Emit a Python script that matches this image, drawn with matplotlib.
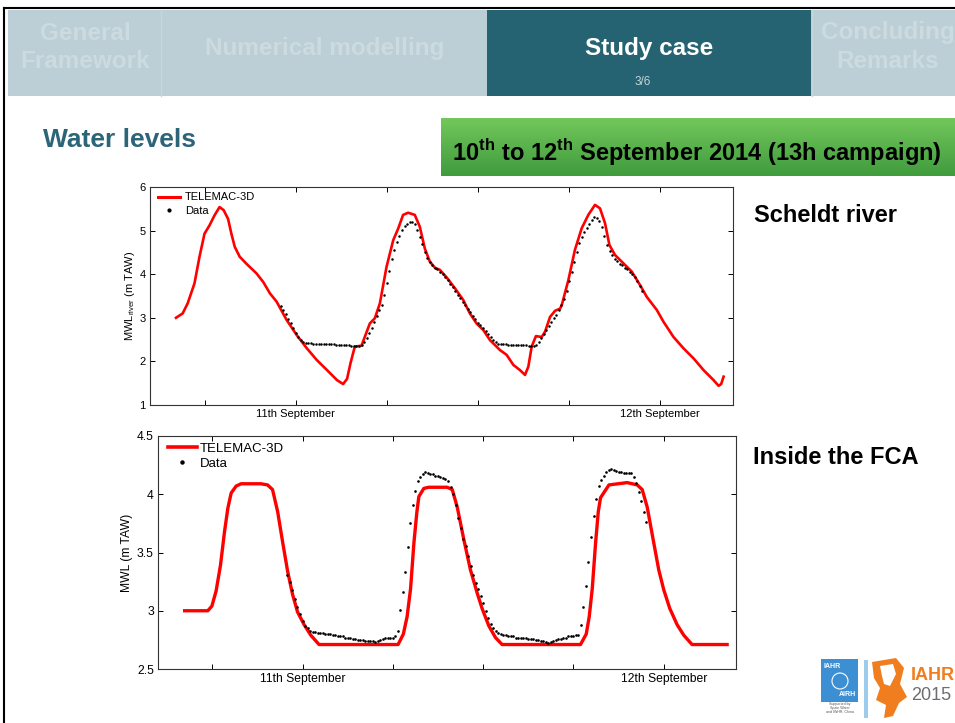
import numpy as np
import matplotlib
matplotlib.use("Agg")
import matplotlib.pyplot as plt
from matplotlib.patches import Rectangle, Polygon, Circle
from matplotlib.lines import Line2D

plt.rcParams['font.family'] = ['Liberation Sans', 'DejaVu Sans']
plt.rcParams['mathtext.fontset'] = 'custom'
plt.rcParams['mathtext.rm'] = 'Liberation Sans'
plt.rcParams['mathtext.bf'] = 'Liberation Sans:bold'

# hours relative to 11 Sept 2014 00:00
tick_hours = [-6, 0, 6, 12, 18, 24]
tick_labels = ['', '11th September', '', '', '', '12th September']

# measurements, 10-minute sampling starting 10 Sept 23:00
data_start = -1.0
data_step = 1 / 6

# Scheldt river: TELEMAC-3D (hour, level)
river_model_t = [-7.89, -7.45, -7.12, -6.67, -6.34, -6.01, -5.68, -5.35, -5.02, -4.75,
                 -4.46, -4.24, -4.02, -3.69, -3.25, -2.59, -2.14, -1.70, -1.26, -0.60,
                 0.07, 0.73, 1.39, 2.06, 2.72, 3.12, 3.38, 3.60, 3.89, 4.33,
                 4.88, 5.21, 5.54, 5.98, 6.42, 6.75, 7.07, 7.40, 7.84, 8.17,
                 8.50, 8.83, 9.16, 9.49, 9.93, 10.48, 11.03, 11.47, 11.91, 12.35,
                 12.79, 13.45, 13.89, 14.33, 14.77, 15.10, 15.32, 15.54, 15.82, 16.20,
                 16.42, 16.75, 17.08, 17.41, 17.52, 17.96, 18.39, 18.83, 19.27, 19.71,
                 20.04, 20.37, 20.66, 21.03, 21.58, 22.13, 22.68, 23.12, 23.78, 24.22,
                 24.88, 25.54, 26.20, 26.86, 27.52, 27.85, 28.02, 28.18]
river_model_v = [3.00, 3.10, 3.33, 3.79, 4.40, 4.93, 5.12, 5.35, 5.54, 5.47,
                 5.27, 4.93, 4.63, 4.40, 4.24, 4.02, 3.82, 3.56, 3.37, 2.95,
                 2.60, 2.30, 2.03, 1.80, 1.57, 1.48, 1.60, 1.95, 2.34, 2.36,
                 2.87, 2.99, 3.33, 4.17, 4.78, 5.05, 5.36, 5.41, 5.36, 5.09,
                 4.59, 4.29, 4.15, 4.10, 3.93, 3.68, 3.41, 3.10, 2.87, 2.72,
                 2.49, 2.26, 2.15, 1.92, 1.80, 1.69, 1.88, 2.34, 2.58, 2.56,
                 2.68, 3.02, 3.16, 3.21, 3.29, 3.87, 4.56, 5.05, 5.36, 5.59,
                 5.51, 5.17, 4.67, 4.44, 4.25, 4.06, 3.75, 3.48, 3.18, 2.91,
                 2.56, 2.30, 2.07, 1.80, 1.57, 1.44, 1.48, 1.65]

# Scheldt river: measured levels (one row per hour)
river_data = [3.28, 3.18, 3.08, 2.97, 2.87, 2.77,
              2.66, 2.57, 2.50, 2.45, 2.42, 2.42,
              2.42, 2.41, 2.41, 2.41, 2.40, 2.40,
              2.40, 2.39, 2.39, 2.39, 2.38, 2.38,
              2.38, 2.37, 2.37, 2.37, 2.36, 2.36,
              2.36, 2.36, 2.37, 2.45, 2.53, 2.64,
              2.76, 2.90, 3.04, 3.17, 3.30, 3.52,
              3.80, 4.08, 4.35, 4.55, 4.73, 4.88,
              5.02, 5.10, 5.16, 5.20, 5.20, 5.14,
              5.02, 4.86, 4.70, 4.52, 4.38, 4.27,
              4.20, 4.15, 4.11, 4.06, 4.01, 3.94,
              3.86, 3.78, 3.70, 3.62, 3.53, 3.45,
              3.37, 3.29, 3.21, 3.13, 3.05, 2.97,
              2.89, 2.83, 2.77, 2.70, 2.63, 2.56,
              2.49, 2.44, 2.40, 2.39, 2.39, 2.39,
              2.38, 2.38, 2.38, 2.38, 2.37, 2.37,
              2.37, 2.37, 2.36, 2.36, 2.36, 2.38,
              2.45, 2.54, 2.63, 2.72, 2.81, 2.90,
              2.99, 3.07, 3.17, 3.30, 3.44, 3.62,
              3.84, 4.05, 4.28, 4.52, 4.72, 4.85,
              4.96, 5.05, 5.15, 5.24, 5.31, 5.30,
              5.22, 5.08, 4.88, 4.68, 4.53, 4.43,
              4.36, 4.30, 4.24, 4.20, 4.15, 4.11,
              4.06, 4.00, 3.93, 3.84, 3.74, 3.62]

# FCA: TELEMAC-3D (hour, level)
fca_model_t = [-7.83, -6.29, -6.02, -5.74, -5.45, -5.18, -4.96, -4.74, -4.41, -4.08,
               -2.76, -2.32, -1.99, -1.65, -1.32, -0.99, -0.66, -0.33, 0.11, 0.55,
               1.10, 6.35, 6.70, 6.95, 7.18, 7.40, 7.60, 7.73, 8.06, 8.38,
               9.61, 9.95, 10.28, 10.72, 11.16, 11.61, 11.93, 12.38, 12.82, 13.26,
               18.47, 18.85, 19.05, 19.25, 19.47, 19.65, 19.80, 20.36, 21.57, 22.24,
               22.57, 22.90, 23.34, 23.67, 24.00, 24.40, 24.89, 25.33, 25.88, 28.21]
fca_model_v = [3.00, 3.00, 3.04, 3.17, 3.39, 3.68, 3.88, 4.01, 4.07, 4.09,
               4.09, 4.08, 4.04, 3.85, 3.59, 3.34, 3.14, 2.99, 2.88, 2.79,
               2.71, 2.71, 2.80, 2.95, 3.19, 3.58, 3.85, 3.98, 4.05, 4.06,
               4.06, 4.04, 3.89, 3.61, 3.35, 3.15, 3.02, 2.87, 2.77, 2.71,
               2.71, 2.80, 2.95, 3.19, 3.58, 3.85, 3.97, 4.08, 4.10, 4.08,
               4.04, 3.89, 3.58, 3.35, 3.18, 3.02, 2.88, 2.79, 2.71, 2.71]

# FCA: measured levels (one row per hour)
fca_data = [3.31, 3.25, 3.18, 3.10, 3.03, 2.97,
            2.91, 2.87, 2.85, 2.83, 2.82, 2.82,
            2.81, 2.81, 2.81, 2.80, 2.80, 2.80,
            2.79, 2.79, 2.78, 2.78, 2.78, 2.77,
            2.77, 2.77, 2.76, 2.76, 2.75, 2.75,
            2.75, 2.74, 2.74, 2.74, 2.74, 2.73,
            2.74, 2.75, 2.76, 2.77, 2.77, 2.77,
            2.77, 2.78, 2.83, 3.01, 3.16, 3.33,
            3.55, 3.75, 3.91, 4.03, 4.11, 4.15,
            4.17, 4.19, 4.18, 4.17, 4.17, 4.16,
            4.16, 4.15, 4.14, 4.13, 4.11, 4.06,
            4.00, 3.91, 3.80, 3.71, 3.62, 3.56,
            3.47, 3.38, 3.31, 3.24, 3.19, 3.13,
            3.07, 3.00, 2.94, 2.89, 2.85, 2.83,
            2.81, 2.80, 2.79, 2.79, 2.78, 2.78,
            2.78, 2.77, 2.77, 2.77, 2.77, 2.77,
            2.76, 2.76, 2.76, 2.75, 2.75, 2.74,
            2.74, 2.73, 2.72, 2.73, 2.74, 2.75,
            2.76, 2.76, 2.77, 2.77, 2.78, 2.78,
            2.78, 2.79, 2.79, 2.88, 3.03, 3.21,
            3.42, 3.63, 3.81, 3.96, 4.07, 4.12,
            4.16, 4.19, 4.21, 4.22, 4.21, 4.20,
            4.19, 4.19, 4.18, 4.18, 4.18, 4.18,
            4.15, 4.10, 4.02, 3.94, 3.85, 3.76]

data_t = data_start + data_step * np.arange(len(river_data))

W, H = 955, 723
fig = plt.figure(figsize=(W / 100, H / 100), dpi=100)

# ---- slide background (pixel coords, y down)
bg = fig.add_axes([0, 0, 1, 1])
bg.set_xlim(0, W)
bg.set_ylim(H, 0)
bg.axis('off')

bg.add_patch(Rectangle((8, 10), W - 8, 86, color='#bccfd6', lw=0))
bg.add_patch(Rectangle((487, 10), 324, 86, color='#256272', lw=0))
for xd in [161, 812]:
    bg.plot([xd, xd], [10, 96], color='#c6d7dc', lw=1)
bg.plot([4, W], [8, 8], color='black', lw=1.5)
bg.plot([4, 4], [8, H], color='black', lw=1.5)

tab_kw = dict(fontsize=17.5, fontweight='bold', ha='center', va='center')
faint = '#cbdbe0'
bg.text(85, 33, 'General', color=faint, **tab_kw)
bg.text(85, 62, 'Framework', color=faint, **tab_kw)
bg.text(325, 48, 'Numerical modelling', color=faint, **tab_kw)
bg.text(649, 48, 'Study case', color='white', **tab_kw)
bg.text(643, 82, '3/6', color='#c3d5da', fontsize=8.5, ha='center', va='center')
bg.text(888, 33, 'Concluding', color=faint, **tab_kw)
bg.text(888, 62, 'Remarks', color=faint, **tab_kw)

bg.text(43, 140, 'Water levels', color='#2c6478', fontsize=19,
        fontweight='bold', va='center')

grad = np.linspace(0, 1, 64).reshape(-1, 1)
top_c = np.array([0.45, 0.78, 0.36])
bot_c = np.array([0.25, 0.61, 0.24])
img = top_c + (bot_c - top_c) * grad[:, :, None]
bg.imshow(img, extent=[441, W, 176, 118], aspect='auto', zorder=1)
bg.text(452, 152, r'10$^{\mathbf{th}}$ to 12$^{\mathbf{th}}$ September 2014 (13h campaign)',
        fontsize=17, fontweight='bold', va='center', zorder=2)

bg.text(754, 215, 'Scheldt river', fontsize=17, fontweight='bold', va='center')
bg.text(753, 457, 'Inside the FCA', fontsize=17, fontweight='bold', va='center')

# logo
bg.add_patch(Rectangle((821, 659), 37, 43, color='#3b8fd2', lw=0))
bg.text(832, 667, 'IAHR', color='white', fontsize=5, fontweight='bold', ha='center', va='center')
bg.text(847, 695, 'AIRH', color='white', fontsize=5, fontweight='bold', ha='center', va='center')
bg.add_patch(Circle((840, 681), 8, fill=False, ec='white', lw=0.8))
bg.text(840, 708, 'Supported by\nSpain Water\nand IWHR, China', color='#555555',
        fontsize=2.6, ha='center', va='center', linespacing=1.0)
bg.add_patch(Rectangle((864, 660), 4, 58, color='#9ccbeb', lw=0))
bg.add_patch(Polygon([(872, 662), (896, 658), (904, 668), (900, 684), (907, 697),
                      (899, 703), (893, 716), (884, 718), (886, 705), (876, 700),
                      (880, 688), (874, 678)], closed=True, color='#f07d1e', lw=0))
bg.add_patch(Polygon([(880, 666), (893, 664), (896, 674), (890, 686), (884, 684),
                      (882, 676)], closed=True, color='white', lw=0))
bg.text(911, 676, 'IAHR', color='#f07d1e', fontsize=13, fontweight='bold', va='center')
bg.text(911, 696, '2015', color='#6d6e71', fontsize=13, va='center')


def fig_rect(left, top, right, bottom):
    return [left / W, 1 - bottom / H, (right - left) / W, (bottom - top) / H]


def style_axes(ax, size):
    ax.set_xlim(-9.6, 28.8)
    ax.set_xticks(tick_hours)
    ax.set_xticklabels(tick_labels)
    ax.tick_params(direction='in', top=True, right=True, length=3.5,
                   width=0.7, labelsize=size, pad=3)
    for sp in ax.spines.values():
        sp.set_linewidth(0.8)
        sp.set_color('#333333')


# ---- Scheldt river
ax1 = fig.add_axes(fig_rect(150, 187, 733, 405))
ax1.plot(river_model_t, river_model_v, color='red', lw=1.9, zorder=2)
ax1.plot(data_t, river_data, 'o', color='black', ms=1.8, mew=0, zorder=3)
style_axes(ax1, 8)
ax1.set_ylim(1, 6)
ax1.set_yticks([1, 2, 3, 4, 5, 6])
ax1.set_ylabel(r'MWL$_{\mathrm{river}}$ (m TAW)', fontsize=8, labelpad=2)
h1 = [Line2D([], [], color='red', lw=2.2),
      Line2D([], [], ls='none', marker='o', color='black', ms=2)]
ax1.legend(h1, ['TELEMAC-3D', 'Data'], loc='upper left', frameon=False,
           fontsize=8, handlelength=2.0, handletextpad=0.4, labelspacing=0.28,
           borderpad=0, borderaxespad=0, bbox_to_anchor=(0.014, 0.975))

# ---- FCA
ax2 = fig.add_axes(fig_rect(158, 436, 736, 669))
ax2.plot(fca_model_t, fca_model_v, color='red', lw=2.4, zorder=2)
ax2.plot(data_t, fca_data, 'o', color='black', ms=1.9, mew=0, zorder=3)
style_axes(ax2, 8.7)
ax2.set_ylim(2.5, 4.5)
ax2.set_yticks([2.5, 3, 3.5, 4, 4.5])
ax2.set_yticklabels(['2.5', '3', '3.5', '4', '4.5'])
ax2.set_ylabel('MWL (m TAW)', fontsize=8.7, labelpad=3)
h2 = [Line2D([], [], color='red', lw=2.6),
      Line2D([], [], ls='none', marker='o', color='black', ms=2.2)]
ax2.legend(h2, ['TELEMAC-3D', 'Data'], loc='upper left', frameon=False,
           fontsize=9.5, handlelength=2.2, handletextpad=0.2, labelspacing=0.2,
           borderpad=0, borderaxespad=0, bbox_to_anchor=(0.017, 0.972))

fig.savefig('out.png', dpi=100)
